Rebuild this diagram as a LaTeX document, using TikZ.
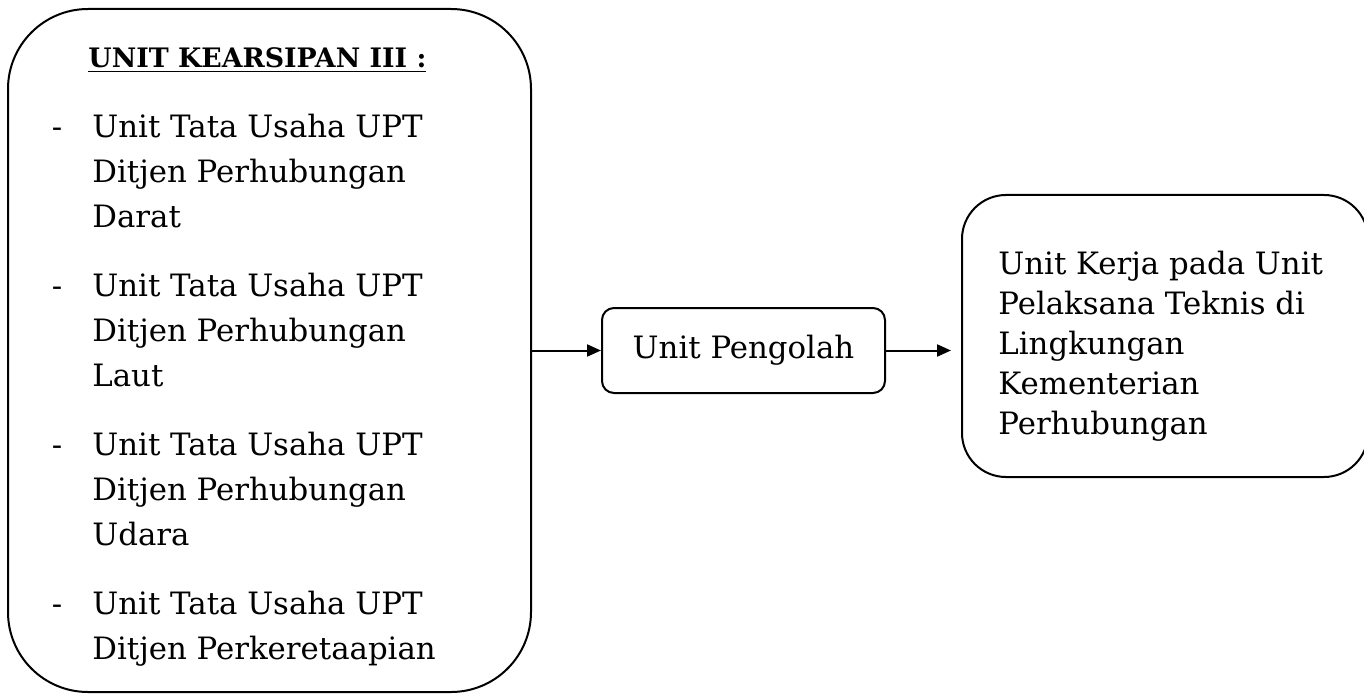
\documentclass[tikz,border=0pt]{standalone}
\usepackage{fontspec}
\setmainfont{DejaVu Serif}
\usetikzlibrary{arrows.meta,positioning,calc}
\newcommand \strip{\llap{-\hspace{15pt}}}

\begin{document}
\begin{tikzpicture}[x=0.5pt,y=-0.5pt,line join=round,
  kotak/.style={draw,line width=1pt,rounded corners=#1,inner sep=0pt},
  teks/.style={inner sep=0pt,align=left,font=\fontsize{15.4}{22.5}\selectfont},
  panah/.style={-{Triangle[length=7pt,width=6pt]},line width=1pt}]
\useasboundingbox (0,0) rectangle (1364,695);
\node[kotak=40pt,minimum width=261.5pt,minimum height=341.5pt] (arsip) at (269.5,350.5) {};
\node[kotak=6pt,minimum width=141.5pt,minimum height=42.5pt,teks] (olah) at (743.5,350.5) {Unit Pengolah};
\node[kotak=22pt,minimum width=203pt,minimum height=141pt] (kerja) at (1165,336) {};
\node[teks,anchor=base west,font=\fontsize{13.4}{16}\selectfont] (judul) at (88,68) {\textbf{\underline{UNIT KEARSIPAN III :}}};
\node[teks,anchor=north west] (daftar) at (92,114)
  {\strip Unit Tata Usaha UPT\\ Ditjen Perhubungan\\ Darat\\[12pt]
   \strip Unit Tata Usaha UPT\\ Ditjen Perhubungan\\ Laut\\[12pt]
   \strip Unit Tata Usaha UPT\\ Ditjen Perhubungan\\ Udara\\[12pt]
   \strip Unit Tata Usaha UPT\\ Ditjen Perkeretaapian};
\node[teks,anchor=north west,font=\fontsize{15.4}{20}\selectfont] (isi) at (998,251)
  {Unit Kerja pada Unit\\ Pelaksana Teknis di\\ Lingkungan\\ Kementerian\\ Perhubungan};
\coordinate (ujung) at ($(kerja.west |- olah.east)+(-10,0)$);
\draw[panah] (arsip.east) -- (olah.west);
\draw[panah] (olah.east) -- (ujung);
\end{tikzpicture}
\end{document}
